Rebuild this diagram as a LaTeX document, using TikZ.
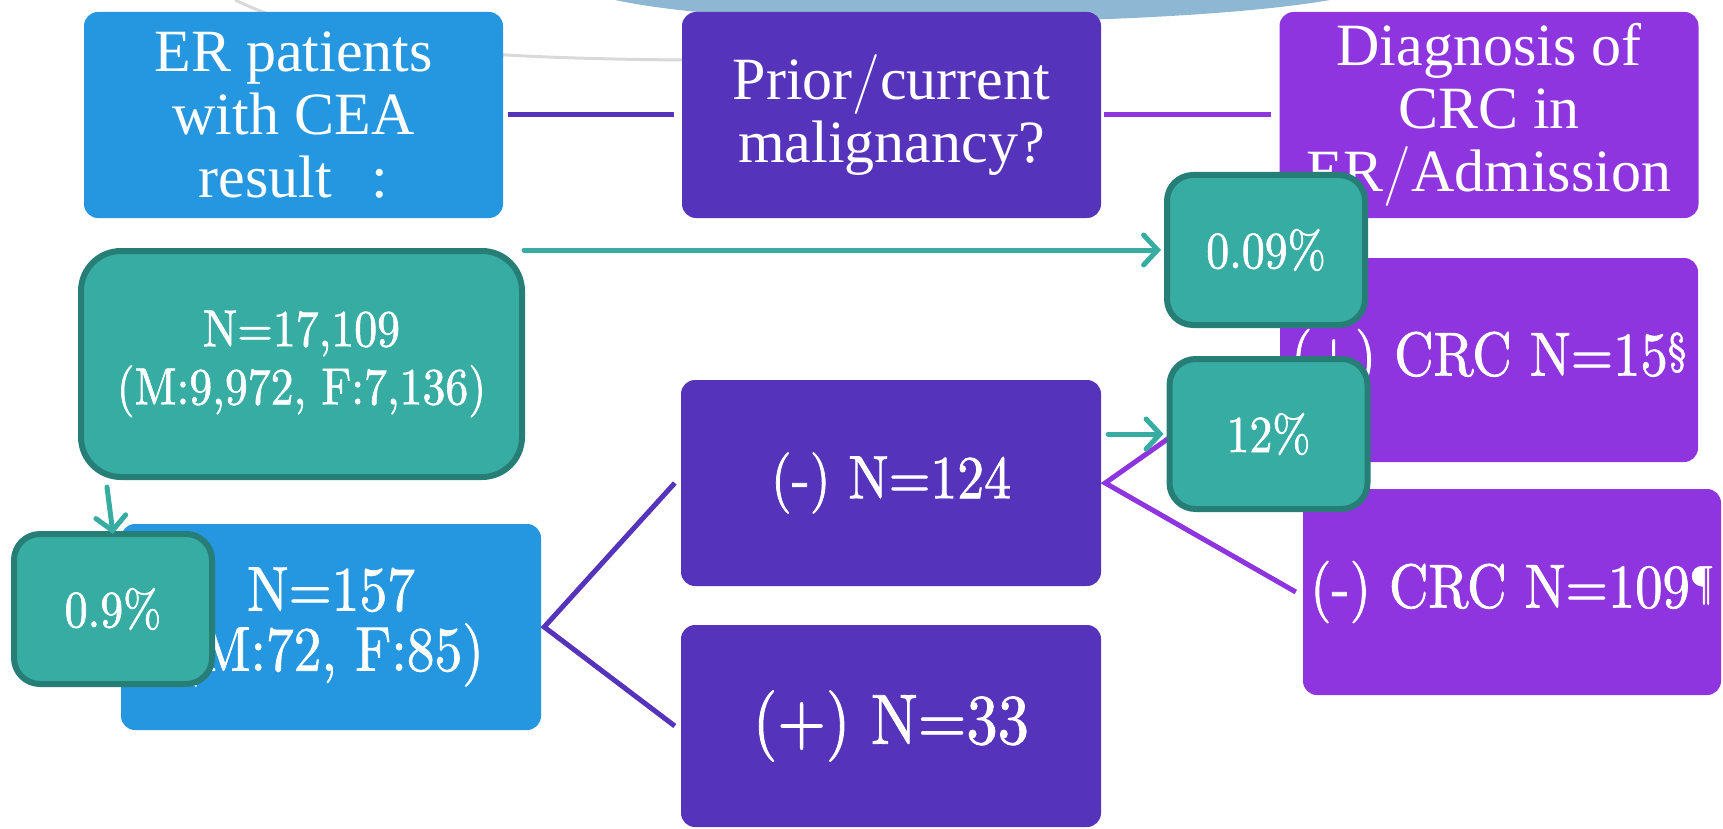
\documentclass[tikz,border=0pt]{standalone}
\usepackage{fontspec}
\newfontfamily\tnr{Liberation Serif}
\newfontfamily\lmc{lmroman10-regular}[Extension=.otf, FakeStretch=0.88, FakeBold=1.2]
\newcommand{\wslash}{{\normalfont\fontsize{60}{63}\selectfont /}}
\usetikzlibrary{arrows.meta}
\definecolor{cblue}{HTML}{2596E0}
\definecolor{cindigo}{HTML}{5533BB}
\definecolor{cviolet}{HTML}{8E35E0}
\definecolor{tealfill}{HTML}{37ACA2}
\definecolor{tealedge}{HTML}{267E77}
\definecolor{skyband}{HTML}{8DB7D2}
\begin{document}
\begin{tikzpicture}[x=1pt,y=-1pt,
  flat/.style={rounded corners=14pt, inner sep=0pt, text=white, align=center},
  topbox/.style={flat, minimum width=419pt, minimum height=206pt, font=\tnr\fontsize{60}{63}\selectfont},
  pct/.style={fill=tealfill, draw=tealedge, line width=6pt, rounded corners=26pt, inner sep=0pt,
    text=white, align=center, minimum width=198pt, minimum height=150pt, font=\lmc\fontsize{52}{56}\selectfont},
  link/.style={line width=5pt},
  tarrow/.style={draw=tealfill, line width=5pt, line cap=round,
    -{Straight Barb[length=14pt,width=30pt,line cap=round]}}
]
\useasboundingbox (0,0) rectangle (1723,829);
% faint background remnants
\fill[skyband] (615,0) .. controls (690,16) and (820,22) .. (950,22) .. controls (1100,22) and (1250,14) .. (1330,0) -- cycle;
\draw[black!15, line width=3pt] (235,0) .. controls (330,45) and (450,58) .. (682,60);

% top row
\node[topbox, fill=cblue] (A) at (293.5,115) {ER patients\\with CEA\\result\hspace{40pt}:};
\node[topbox, fill=cindigo] (B) at (891.5,115) {Prior\wslash current\\malignancy?};
\node[topbox, fill=cviolet] (C) at (1489,115) {Diagnosis of\\CRC in\\ER\wslash Admission};
\draw[link, cindigo] ([xshift=5pt]A.east) -- ([xshift=-8pt]B.west);
\draw[link, cviolet] ([xshift=3pt]B.east) -- ([xshift=-8pt]C.west);

% lower boxes
\node[flat, fill=cblue, minimum width=420pt, minimum height=206pt, font=\lmc\fontsize{63}{60}\selectfont] (N157) at (331,627) {N=157\\(M:72, F:85)};
\node[flat, fill=cindigo, minimum width=420pt, minimum height=206pt, font=\lmc\fontsize{61}{64}\selectfont] (N124) at (891,483) {(-) N=124};
\node[flat, fill=cindigo, minimum width=420pt, minimum height=202pt, font=\lmc\fontsize{71}{74}\selectfont] (N33) at (891,726) {(+) N=33};
\node[flat, fill=cviolet, minimum width=418pt, minimum height=204pt, font=\lmc\fontsize{62}{64}\selectfont] (CRCpos) at (1489,360) {(+) CRC N=15\textsuperscript{§}};
\node[flat, fill=cviolet, minimum width=418pt, minimum height=206pt, font=\lmc\fontsize{62}{64}\selectfont] (CRCneg) at (1512,592) {(-) CRC N=109\textsuperscript{¶}};

\draw[link, cindigo] ([xshift=-6pt]N124.west) -- ([xshift=3pt]N157.east) -- ([xshift=-6pt]N33.west);
\draw[link, cviolet] (CRCpos.west) -- ([xshift=4pt]N124.east) -- ([xshift=-7pt]CRCneg.west);

% teal boxes
\node[pct, rounded corners=40pt, minimum width=441pt, minimum height=226pt, font=\lmc\fontsize{52}{58}\selectfont] (T1) at (301.5,364) {N=17,109\\(M:9,972, F:7,136)};
\node[pct] (p09) at (113,609) {0.9\%};
\node[pct] (p009) at (1266,250) {0.09\%};
\node[pct] (p12) at (1268.5,434) {12\%};

% teal arrows
\coordinate (s1) at (107,487);
\draw[tarrow] (s1) -- ([yshift=-3pt]p09.north);
\draw[tarrow] ([xshift=-1pt]T1.east |- p009.west) -- ([xshift=-3pt]p009.west);
\draw[tarrow] ([xshift=7pt]N124.east |- p12.west) -- ([xshift=-3pt]p12.west);
\end{tikzpicture}
\end{document}
